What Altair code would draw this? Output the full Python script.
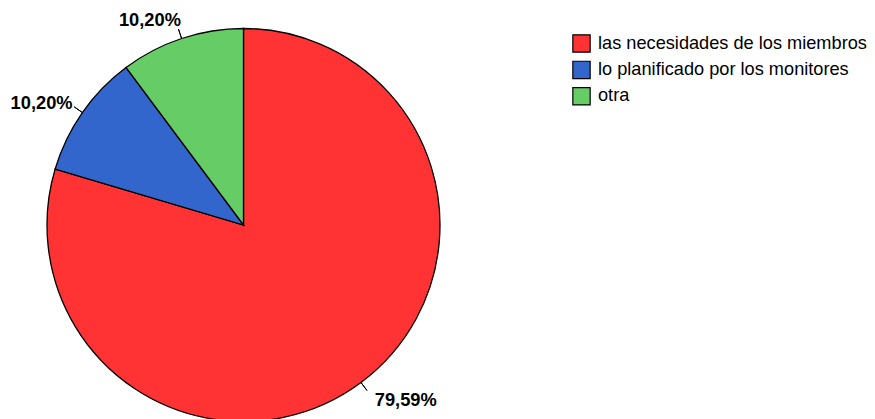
import altair as alt
import pandas as pd

categories = ["las necesidades de los miembros", "lo planificado por los monitores", "otra"]
percentages = [79.59, 10.20, 10.20]
labels = ["79,59%", "10,20%", "10,20%"]
colors = ["#FF3333", "#3366CC", "#66CC66"]

df = pd.DataFrame({"cat": categories, "pct": percentages, "label": labels})
df["end"] = df["pct"].cumsum()
df["start"] = df["end"] - df["pct"]
df["mid"] = (df["start"] + df["end"]) / 2
total = float(df["pct"].sum())

CX, CY = 235.5, 217
R = 196.5
FONT = "Liberation Sans"

theta_scale = alt.Scale(domain=[0, total])

base = alt.Chart(df)

pie = base.mark_arc(x=CX, y=CY, outerRadius=R, stroke="black", strokeWidth=1.3).encode(
    theta=alt.Theta("start:Q", scale=theta_scale, stack=None),
    theta2="end:Q",
    fill=alt.Fill(
        "cat:N",
        scale=alt.Scale(domain=categories, range=colors),
        legend=alt.Legend(
            title=None,
            orient="none",
            legendX=564,
            legendY=26,
            symbolType="square",
            symbolSize=300,
            symbolStrokeColor="black",
            symbolStrokeWidth=1.2,
            labelFont=FONT,
            labelFontSize=18.2,
            labelColor="black",
            labelOffset=7,
            rowPadding=3.4,
            padding=0,
            labelLimit=400,
        ),
    ),
    order=alt.Order("start:Q"),
)

leaders = base.mark_arc(x=CX, y=CY, innerRadius=R, outerRadius=R + 10,
                        stroke="black", strokeWidth=1, fillOpacity=0).encode(
    theta=alt.Theta("mid:Q", scale=theta_scale, stack=None),
    theta2="mid:Q",
)

offsets = {categories[0]: (34, 4), categories[1]: (-26, 1.5), categories[2]: (-26, 0)}
text_layers = []
for c in categories:
    dx, dy = offsets[c]
    text_layers.append(
        base.transform_filter(alt.datum.cat == c).mark_text(
            x=CX, y=CY, radius=R + 18, dx=dx, dy=dy, font=FONT, fontSize=18.3,
            fontWeight="bold", color="black", align="center", baseline="middle",
        ).encode(
            theta=alt.Theta("mid:Q", scale=theta_scale, stack=None),
            text="label:N",
        )
    )

chart = alt.layer(pie, leaders, *text_layers).properties(
    width=859, height=411, autosize=alt.AutoSizeParams(type="none"), padding=0
).configure_view(stroke=None).configure(background="white")

chart.save("out.html", embed_options={"renderer": "svg", "actions": False})
